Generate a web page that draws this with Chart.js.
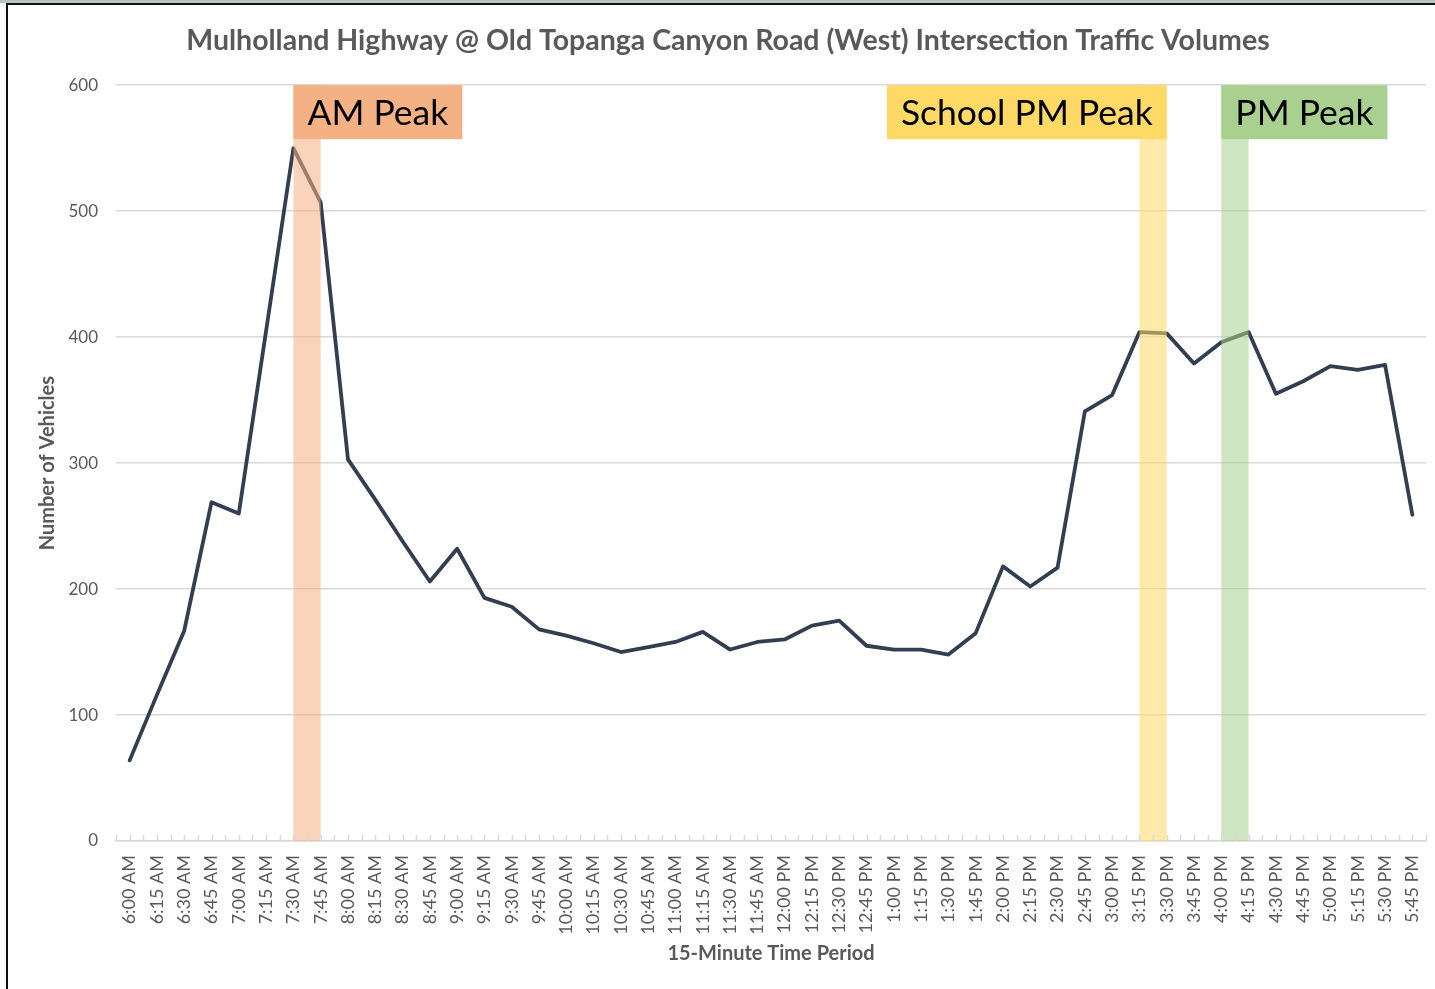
<!DOCTYPE html>
<html>
<head>
<meta charset="utf-8">
<title>Traffic Volumes</title>
<script src="https://cdn.jsdelivr.net/npm/chart.js@4.4.1/dist/chart.umd.min.js"></script>
<style>
  html, body { margin: 0; padding: 0; background: #fff; }
  #wrap { position: relative; width: 1435px; height: 989px; overflow: hidden; }
  #chart { position: absolute; left: 0; top: 0; }
  .strip { position: absolute; left: 0; top: 0; width: 1435px; height: 3px; background: #b9c3bf; }
  .edge-top { position: absolute; left: 6px; top: 3px; width: 1429px; height: 2px; background: #111; }
  .edge-left { position: absolute; left: 6px; top: 3px; width: 2px; height: 986px; background: #111; }
</style>
</head>
<body>
<div id="wrap">
  <canvas id="chart" width="1435" height="989"></canvas>
  <div class="strip"></div>
  <div class="edge-top"></div>
  <div class="edge-left"></div>
</div>
<script>
// 15-minute periods, 6:00 AM to 5:45 PM
const periods = [
  "6:00 AM", "6:15 AM", "6:30 AM", "6:45 AM", "7:00 AM", "7:15 AM", "7:30 AM", "7:45 AM",
  "8:00 AM", "8:15 AM", "8:30 AM", "8:45 AM", "9:00 AM", "9:15 AM", "9:30 AM", "9:45 AM",
  "10:00 AM", "10:15 AM", "10:30 AM", "10:45 AM", "11:00 AM", "11:15 AM", "11:30 AM", "11:45 AM",
  "12:00 PM", "12:15 PM", "12:30 PM", "12:45 PM", "1:00 PM", "1:15 PM", "1:30 PM", "1:45 PM",
  "2:00 PM", "2:15 PM", "2:30 PM", "2:45 PM", "3:00 PM", "3:15 PM", "3:30 PM", "3:45 PM",
  "4:00 PM", "4:15 PM", "4:30 PM", "4:45 PM", "5:00 PM", "5:15 PM", "5:30 PM", "5:45 PM"
];

const vehicles = [
  64, 116, 167, 269, 260, 405, 550, 507,
  303, 271, 238, 206, 232, 193, 186, 168,
  163, 157, 150, 154, 158, 166, 152, 158,
  160, 171, 175, 155, 152, 152, 148, 165,
  218, 202, 217, 341, 354, 404, 403, 379,
  396, 404, 355, 365, 377, 374, 378, 259
];

const yTicks = [0, 100, 200, 300, 400, 500, 600];

// peak windows
const peakNames = ["AM Peak", "School PM Peak", "PM Peak"];
const peakStart = ["7:30 AM", "3:15 PM", "4:00 PM"];
const peakEnd = ["7:45 AM", "3:30 PM", "4:15 PM"];

const peakColors = ["244,177,131", "255,217,102", "169,208,142"];
const peakLabelSide = ["left", "right", "left"];

const gray = "#595959";
const gridGray = "#D9D9D9";
const font = "Lato";

// small tick marks at every category and between categories
const minorTicks = {
  id: "minorTicks",
  afterDraw(chart) {
    const x = chart.scales.x;
    const ctx = chart.ctx;
    const half = (x.getPixelForValue(1) - x.getPixelForValue(0)) / 2;
    const y = chart.chartArea.bottom;
    ctx.save();
    ctx.strokeStyle = gridGray;
    ctx.lineWidth = 1.5;
    ctx.beginPath();
    for (let i = 0; i < periods.length; i++) {
      const p = x.getPixelForValue(i);
      [p - half, p].forEach(px => {
        ctx.moveTo(Math.round(px) + 0.5, y - 6);
        ctx.lineTo(Math.round(px) + 0.5, y);
      });
      if (i === periods.length - 1) {
        ctx.moveTo(Math.round(p + half) + 0.5, y - 6);
        ctx.lineTo(Math.round(p + half) + 0.5, y);
      }
    }
    ctx.stroke();
    ctx.restore();
  }
};

// translucent peak bands over the line, with their label boxes
const peakBands = {
  id: "peakBands",
  afterDatasetsDraw(chart) {
    const x = chart.scales.x;
    const y = chart.scales.y;
    const ctx = chart.ctx;
    const top = y.getPixelForValue(600);
    const bottom = y.getPixelForValue(0);
    ctx.save();
    peakNames.forEach((name, i) => {
      const x0 = x.getPixelForValue(periods.indexOf(peakStart[i]));
      const x1 = x.getPixelForValue(periods.indexOf(peakEnd[i]));
      ctx.fillStyle = "rgba(" + peakColors[i] + ",0.55)";
      ctx.fillRect(x0, top, x1 - x0, bottom - top);

      ctx.font = "35.5px " + font;
      const w = ctx.measureText(name).width + 28;
      const bx = peakLabelSide[i] === "left" ? x0 : x1 - w;
      ctx.fillStyle = "rgb(" + peakColors[i] + ")";
      ctx.fillRect(bx, top, w, 54);
      ctx.fillStyle = "#000";
      ctx.textBaseline = "middle";
      ctx.textAlign = "left";
      ctx.fillText(name, bx + 14, top + 28);
    });
    ctx.restore();
  }
};

function draw() {
  new Chart(document.getElementById("chart"), {
    type: "line",
    data: {
      labels: periods,
      datasets: [{
        data: vehicles,
        borderColor: "#333F50",
        borderWidth: 3.8,
        borderJoinStyle: "round",
        borderCapStyle: "round",
        pointRadius: 0,
        tension: 0,
        fill: false
      }]
    },
    options: {
      responsive: false,
      animation: false,
      layout: { padding: { left: 30, right: 9, top: 0, bottom: 0 } },
      plugins: {
        legend: { display: false },
        tooltip: { enabled: false },
        title: {
          display: true,
          text: "Mulholland Highway @ Old Topanga Canyon Road (West) Intersection Traffic Volumes",
          color: gray,
          font: { family: font, size: 28.5, weight: "bold", lineHeight: 1.2 },
          padding: { top: 24, bottom: 27 }
        }
      },
      scales: {
        x: {
          offset: true,
          afterFit(scale) {
            scale.height = 148;
            scale.paddingLeft = 0;
            scale.paddingRight = 0;
          },
          grid: { display: true, drawOnChartArea: false, drawTicks: false },
          border: { display: true, color: gridGray, width: 1.5 },
          ticks: {
            autoSkip: false,
            maxRotation: 90,
            minRotation: 90,
            padding: 14,
            color: gray,
            font: { family: font, size: 18 }
          },
          title: {
            display: true,
            text: "15-Minute Time Period",
            color: gray,
            font: { family: font, size: 20, weight: "bold", lineHeight: 1.2 },
            padding: { top: 0, bottom: 23 }
          }
        },
        y: {
          min: 0,
          max: 600,
          afterFit(scale) { scale.width = 86; },
          afterBuildTicks(scale) { scale.ticks = yTicks.map(v => ({ value: v })); },
          grid: { color: gridGray, lineWidth: 1.5, drawTicks: false },
          border: { display: false },
          ticks: {
            padding: 18,
            color: gray,
            font: { family: font, size: 17 }
          },
          title: {
            display: true,
            text: "Number of Vehicles",
            color: gray,
            font: { family: font, size: 20, weight: "bold", lineHeight: 1.2 },
            padding: { top: 6, bottom: 0 }
          }
        }
      }
    },
    plugins: [minorTicks, peakBands]
  });
}

Promise.all([
  document.fonts.load("17px " + font),
  document.fonts.load("bold 17px " + font)
]).then(draw, draw);
</script>
</body>
</html>
